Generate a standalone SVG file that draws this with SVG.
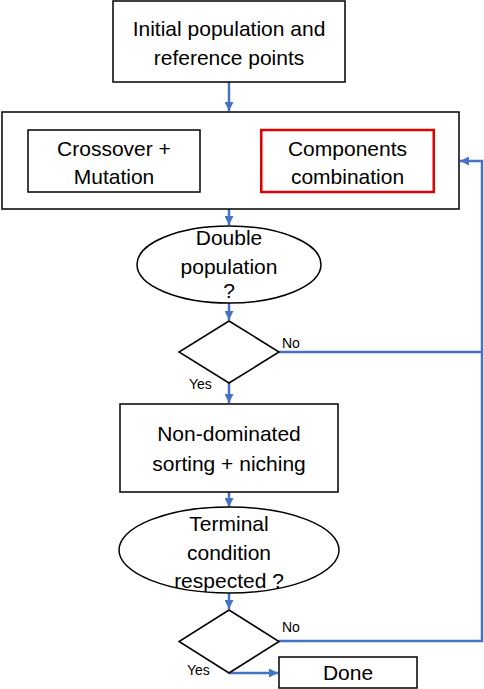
<svg xmlns="http://www.w3.org/2000/svg" width="484" height="689" viewBox="0 0 484 689">
<style>
.box{fill:#fff;stroke:#000;stroke-width:1.5}
.red{fill:#fff;stroke:#e00000;stroke-width:2.5}
.t{font-family:"Liberation Sans",Arial,sans-serif;font-size:21px;fill:#000;text-anchor:middle}
.s{font-family:"Liberation Sans",Arial,sans-serif;font-size:14px;fill:#000}
.c{fill:none;stroke:#4472C4;stroke-width:2.5}
</style>
<defs>
<marker id="ah" markerUnits="userSpaceOnUse" markerWidth="9" markerHeight="9" viewBox="0 0 9 9" refX="9" refY="4.5" orient="auto">
<path d="M0,0 L9,4.5 L0,9 Z" fill="#4472C4"/>
</marker>
</defs>
<rect width="484" height="689" fill="#fff"/>
<g id="connectors">
<path class="c" d="M229,82 V111" marker-end="url(#ah)"/>
<path class="c" d="M229,209 V225" marker-end="url(#ah)"/>
<path class="c" d="M229,303 V320" marker-end="url(#ah)"/>
<path class="c" d="M229,383 V403" marker-end="url(#ah)"/>
<path class="c" d="M229,492 V507" marker-end="url(#ah)"/>
<path class="c" d="M229,593 V609" marker-end="url(#ah)"/>
<path class="c" d="M229,673 H278" marker-end="url(#ah)"/>
<path class="c" d="M279,352 H482"/>
<path class="c" d="M279,641 H482 V161 H460" marker-end="url(#ah)"/>
</g>
<g id="initial">
<rect class="box" x="113" y="1" width="232" height="81"/>
<text class="t" x="229" y="35.5">Initial population and</text>
<text class="t" x="229" y="64.5">reference points</text>
</g>
<g id="outer">
<rect class="box" x="2" y="112" width="457" height="97"/>
</g>
<g id="crossover">
<rect class="box" x="28" y="130" width="172" height="62"/>
<text class="t" x="114" y="155.5">Crossover +</text>
<text class="t" x="114" y="183.5">Mutation</text>
</g>
<g id="components">
<rect class="red" x="261.25" y="130" width="172.5" height="62"/>
<text class="t" x="347.5" y="155.5">Components</text>
<text class="t" x="347.5" y="183.5">combination</text>
</g>
<g id="double">
<ellipse class="box" cx="229" cy="264.5" rx="92" ry="38.5"/>
<text class="t" x="229" y="244.5">Double</text>
<text class="t" x="229" y="273.5">population</text>
<text class="t" x="229" y="297.5">?</text>
</g>
<g id="decision1">
<polygon class="box" points="229,321 279,352 229,383 179,352"/>
<text class="s" x="282" y="348">No</text>
<text class="s" x="189" y="389">Yes</text>
</g>
<g id="sorting">
<rect class="box" x="120" y="404" width="218" height="88"/>
<text class="t" x="229" y="440.5">Non-dominated</text>
<text class="t" x="229" y="470.5">sorting + niching</text>
</g>
<g id="terminal">
<ellipse class="box" cx="229" cy="550" rx="110" ry="43"/>
<text class="t" x="229" y="530.5">Terminal</text>
<text class="t" x="229" y="559.5">condition</text>
<text class="t" x="229" y="587.5">respected ?</text>
</g>
<g id="decision2">
<polygon class="box" points="229,610 279,641.5 229,673 179,641.5"/>
<text class="s" x="282" y="632">No</text>
<text class="s" x="187" y="675">Yes</text>
</g>
<g id="done">
<rect class="box" x="279" y="657" width="138" height="31"/>
<text class="t" x="348" y="680">Done</text>
</g>
</svg>
